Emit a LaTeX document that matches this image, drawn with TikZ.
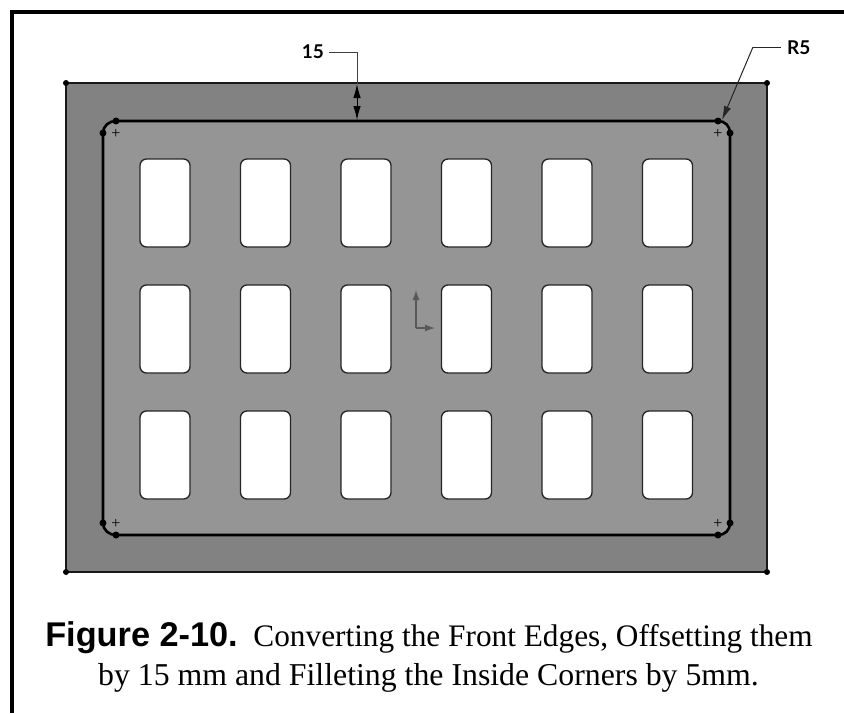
\documentclass[tikz,border=0pt]{standalone}
\usepackage{fontspec}
\setmainfont{Liberation Serif}
\setsansfont{Liberation Sans}
\newfontfamily\dimfont{Lato}
\usetikzlibrary{arrows.meta}
\definecolor{outerg}{gray}{0.51}
\definecolor{innerg}{gray}{0.585}
\tikzset{
  px/.style={x=1pt,y=-1pt},
  vertexdot/.style={circle,fill=black,inner sep=0pt,minimum size=7pt},
  slot/.style={draw=black!85,line width=1.3pt,fill=white,rounded corners=6.5pt},
  edgeline/.style={draw=black!90,line width=1.8pt},
  sketch/.style={draw=black,line width=2.6pt},
  leader/.style={draw=black!75,line width=1pt},
  dimtext/.style={font=\dimfont\bfseries\fontsize{19}{21}\selectfont,inner sep=0pt},
  centermark/.style={font=\fontsize{16}{16}\selectfont,inner sep=0pt,text=black},
  dimhead/.tip={Latex[length=14pt,width=7.5pt]},
}
\begin{document}
\begin{tikzpicture}[px]
\useasboundingbox (0,0) rectangle (844,713);
\fill[white] (0,0) rectangle (844,713);
% frame
\coordinate (fa) at (12,713);
\coordinate (fb) at (12,12);
\coordinate (fc) at (844,12);
\draw[black,line width=4pt] (fa) -- (fb) -- (fc);
% plate
\coordinate (o1) at (66,83);
\coordinate (o2) at (767,83);
\coordinate (o3) at (767,572);
\coordinate (o4) at (66,572);
\fill[outerg] (o1) rectangle (o3);
% inner profile
\coordinate (a1) at (116,121); \coordinate (a2) at (718,121);
\coordinate (b1) at (730,133); \coordinate (b2) at (730,523);
\coordinate (c1) at (718,535); \coordinate (c2) at (116,535);
\coordinate (d1) at (103,523); \coordinate (d2) at (103,133);
\fill[innerg] (a1) -- (a2) .. controls (725,121) and (730,126) .. (b1) -- (b2)
  .. controls (730,530) and (725,535) .. (c1) -- (c2)
  .. controls (109,535) and (103,530) .. (d1) -- (d2)
  .. controls (103,126) and (109,121) .. (a1) -- cycle;
% slots
\foreach \x in {140,240.5,341,441.5,542,642.5}
  \foreach \y in {159,285,411}
    \draw[slot] (\x,\y) rectangle ++(50,88);
\draw[edgeline] (o1) -- (o2) -- (o3) -- (o4) -- cycle;
\draw[sketch] (a1) -- (a2) .. controls (725,121) and (730,126) .. (b1) -- (b2)
  .. controls (730,530) and (725,535) .. (c1) -- (c2)
  .. controls (109,535) and (103,530) .. (d1) -- (d2)
  .. controls (103,126) and (109,121) .. (a1) -- cycle;
% dots
\foreach \n in {o1,o2,o3,o4}
  \node[vertexdot,minimum size=6pt] at (\n) {};
\foreach \n in {a1,a2,b1,b2,c1,c2,d1,d2}
  \node[vertexdot] at (\n) {};
% centre marks
\foreach \p in {(116,133.5),(718,133.5),(116,523.5),(718,523.5)}
  \node[centermark] at \p {+};
% origin
\coordinate (org) at (416,328);
\coordinate (orgx) at (435,328);
\coordinate (orgy) at (416,290);
\draw[draw=black!65,line width=1.3pt,-{Latex[length=10pt,width=7pt]}] (org) -- (orgx);
\draw[draw=black!65,line width=1.3pt,-{Latex[length=10pt,width=7pt]}] (org) -- (orgy);
% dimension 15
\node[dimtext,anchor=east] (d15) at (324,52) {15};
\coordinate (l1) at (329,52);
\coordinate (l2) at (357,52);
\coordinate (l3) at (357,84);
\coordinate (l4) at (357,120);
\draw[leader] (l1) -- (l2) -- (l3);
\draw[draw=black,line width=1pt,dimhead-dimhead] (l3) -- (l4);
% radius
\node[dimtext,anchor=west] (r5) at (787,47.5) {R5};
\coordinate (r1) at (781,47);
\coordinate (r2) at (753,47);
\coordinate (r3) at (722,120);
\draw[draw=black!85,line width=1pt] (r1) -- (r2);
\draw[draw=black!85,line width=1pt,-dimhead] (r2) -- (r3);
% caption
\node[anchor=base,inner sep=0pt] (cap1) at (429,646) {\fontsize{34.3}{40}\selectfont\sffamily\bfseries Figure 2-10.\rmfamily\mdseries\fontsize{31.3}{40}\selectfont\ \ Converting the Front Edges, Offsetting them};
\node[anchor=base,inner sep=0pt] (cap2) at (428.5,685) {\fontsize{31.8}{40}\selectfont by 15 mm and Filleting the Inside Corners by 5mm.};
\end{tikzpicture}
\end{document}
